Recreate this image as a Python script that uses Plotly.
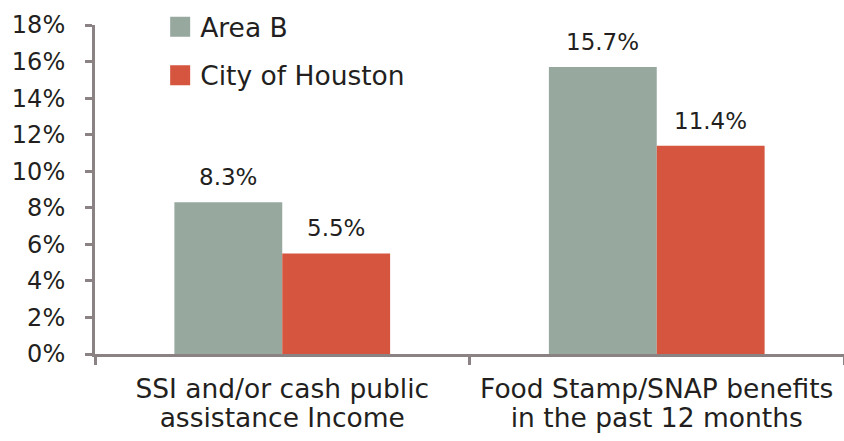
import plotly.graph_objects as go

categories = [
    "SSI and/or cash public<br>assistance Income",
    "Food Stamp/SNAP benefits<br>in the past 12 months",
]
series_names = ["Area B", "City of Houston"]
area_b = [8.3, 15.7]
city_houston = [5.5, 11.4]
y_ticks = [0, 2, 4, 6, 8, 10, 12, 14, 16, 18]
y_tick_labels = [f"{v}%" for v in y_ticks]

colors = ["#97a89f", "#d5553e"]
FONT = "'DejaVu Sans', sans-serif"
TEXT = "#231f20"
AXIS = "#8a8283"

fig = go.Figure()
for name, vals, col in zip(series_names, [area_b, city_houston], colors):
    fig.add_trace(go.Bar(
        x=categories, y=vals, name=name, marker=dict(color=col, line=dict(width=0)),
        showlegend=False,
    ))
    # legend proxy
    fig.add_trace(go.Scatter(
        x=[None], y=[None], mode="markers", name=name, legendgroup=name,
        marker=dict(symbol="square", size=16, color=col, line=dict(color=col, width=4)),
    ))

# value labels
shifts = [-54, 54]
for vals, xs in zip([area_b, city_houston], shifts):
    for c, v in zip(categories, vals):
        fig.add_annotation(
            x=c, y=v, xref="x", yref="y", text=f"{v:.1f}%", showarrow=False,
            xshift=xs, yshift=25, yanchor="middle",
            font=dict(family=FONT, size=23, color=TEXT),
        )

tick_text = [f"<span style='font-size:26.5px'>{c}</span>" for c in categories]

fig.update_layout(
    width=844, height=441,
    margin=dict(l=95, r=0, t=25, b=87, autoexpand=False),
    paper_bgcolor="white", plot_bgcolor="white",
    barmode="group", bargap=0.424, bargroupgap=0,
    font=dict(family=FONT, color=TEXT),
    legend=dict(
        x=0.087, y=1.067, xanchor="left", yanchor="top",
        font=dict(family=FONT, size=26.5, color=TEXT),
        bgcolor="rgba(0,0,0,0)", tracegroupgap=11,
    ),
    xaxis=dict(
        tickmode="array", tickvals=categories, ticktext=tick_text,
        tickson="boundaries", ticks="outside", ticklen=8, tickwidth=3, tickcolor=AXIS,
        showline=True, linecolor=AXIS, linewidth=3, showgrid=False,
        tickfont=dict(family=FONT, size=22, color=TEXT),
        ticklabelstandoff=15, automargin=False,
    ),
    yaxis=dict(
        range=[0, 18], tickvals=y_ticks, ticktext=y_tick_labels,
        ticks="outside", ticklen=7, tickwidth=3, tickcolor=AXIS,
        showline=True, linecolor=AXIS, linewidth=3, showgrid=False, zeroline=False,
        tickfont=dict(family=FONT, size=24, color=TEXT),
        ticklabelstandoff=15, automargin=False,
    ),
)

fig.write_html(
    "out.html",
    config={"displayModeBar": False},
    post_script="document.body.style.margin='0px';",
)
